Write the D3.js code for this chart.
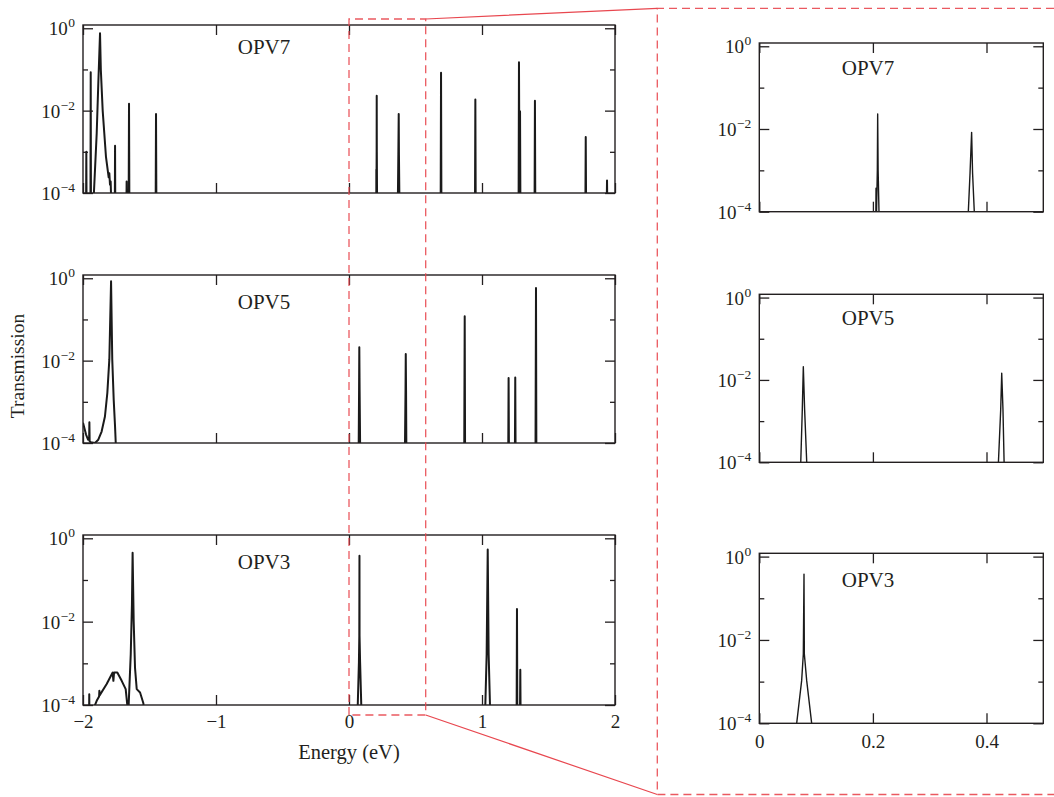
<!DOCTYPE html>
<html>
<head>
<meta charset="utf-8">
<script src="https://cdn.jsdelivr.net/npm/d3@7"></script>
<style>
  body { margin: 0; background: #fff; }
  text { font-family: "Liberation Serif", "DejaVu Serif", serif; fill: #231f20; }
</style>
</head>
<body>
<svg id="chart" width="1054" height="797"></svg>
<script>
// ---- Transmission spectra T(E), energies in eV ----
// Values of 3e-5 sit below the plotted range (floor of the log axis is 1e-4).
const opv7Energy = [
  -2.000, -1.977, -1.975, -1.973, -1.944, -1.942, -1.940,
  -1.925, -1.918, -1.897, -1.885, -1.872, -1.866, -1.852, -1.827, -1.807, -1.802, -1.797, -1.792, -1.785,
  -1.761, -1.759, -1.757, -1.674, -1.672, -1.670, -1.657, -1.654, -1.651, -1.454, -1.451, -1.448,
  0.2050, 0.2055, 0.2060, 0.2078, 0.2084, 0.2092, 0.2115,
  0.3665, 0.3680, 0.3710, 0.3738, 0.3755, 0.3785, 0.3800,
  0.689, 0.692, 0.695, 0.947, 0.950, 0.953,
  1.275, 1.278, 1.282, 1.286, 1.289, 1.395, 1.398, 1.401,
  1.777, 1.780, 1.783, 1.937, 1.940, 1.943, 2.000
];
const opv7Trans = [
  3e-5, 3e-5, 1.0e-3, 3e-5, 3e-5, 0.085, 3e-5,
  3e-5, 1.0e-4, 2.8e-3, 0.045, 0.76, 0.10, 0.010, 7.4e-4, 2.4e-4, 3.0e-4, 1.6e-4, 1.9e-4, 3e-5,
  3e-5, 1.4e-3, 3e-5, 3e-5, 1.9e-4, 3e-5, 3e-5, 0.0146, 3e-5, 3e-5, 0.0083, 3e-5,
  3e-5, 3.7e-4, 5e-5, 1.0e-3, 0.023, 1.0e-3, 3e-5,
  3e-5, 1.0e-4, 8.5e-4, 0.0083, 8.5e-4, 1.0e-4, 3e-5,
  3e-5, 0.083, 3e-5, 3e-5, 0.0187, 3e-5,
  3e-5, 0.15, 1.0e-4, 0.0097, 3e-5, 3e-5, 0.0174, 3e-5,
  3e-5, 0.0023, 3e-5, 3e-5, 2.0e-4, 3e-5, 3e-5
];

const opv5Energy = [
  -2.000, -1.977, -1.962, -1.954, -1.952, -1.950, -1.942, -1.910, -1.885, -1.860, -1.835,
  -1.817, -1.802, -1.789, -1.780, -1.769, -1.759, -1.747,
  0.0715, 0.0730, 0.0757, 0.0775, 0.0798, 0.0835, 0.0850,
  0.4195, 0.4210, 0.4250, 0.4268, 0.4290, 0.4310, 0.4325,
  0.866, 0.870, 0.873, 1.197, 1.200, 1.203, 1.247, 1.250, 1.253,
  1.402, 1.406, 1.409, 2.000
];
const opv5Trans = [
  3.1e-4, 1.6e-4, 1.2e-4, 1.2e-4, 3.2e-4, 1.1e-4, 1.05e-4, 1.0e-4, 1.2e-4, 1.9e-4, 4.4e-4,
  1.65e-3, 0.0107, 0.85, 0.0107, 1.1e-3, 2.5e-4, 3e-5,
  3e-5, 1.0e-4, 1.9e-3, 0.021, 1.9e-3, 1.0e-4, 3e-5,
  3e-5, 1.0e-4, 1.9e-3, 0.0145, 1.9e-3, 1.0e-4, 3e-5,
  3e-5, 0.12, 3e-5, 3e-5, 0.0038, 3e-5, 3e-5, 0.0039, 3e-5,
  3e-5, 0.58, 3e-5, 3e-5
];

const opv3Energy = [
  -2.000, -1.955, -1.953, -1.951, -1.922, -1.897, -1.879, -1.877, -1.875, -1.822,
  -1.777, -1.7715, -1.7665, -1.742, -1.709, -1.679, -1.664, -1.658,
  -1.641, -1.632, -1.627, -1.619, -1.609, -1.596, -1.571, -1.546, -1.534,
  0.0640, 0.0658, 0.0746, 0.0775, 0.0787, 0.0793, 0.0834, 0.0922, 0.0940,
  1.020, 1.025, 1.035, 1.043, 1.050, 1.060, 1.063,
  1.260, 1.263, 1.266, 1.285, 1.288, 1.291, 2.000
];
const opv3Trans = [
  3e-5, 3e-5, 1.8e-4, 3e-5, 8e-5, 1.26e-4, 1.6e-4, 2.2e-4, 1.7e-4, 3.2e-4,
  6.0e-4, 3.8e-4, 6.0e-4, 6.0e-4, 3.8e-4, 2.4e-4, 8e-5, 8e-5,
  1.66e-3, 0.026, 0.45, 0.0105, 7.9e-4, 2.4e-4, 2.0e-4, 1.1e-4, 3e-5,
  3e-5, 1.0e-4, 1.07e-3, 4.6e-3, 0.38, 4.6e-3, 1.07e-3, 1.0e-4, 3e-5,
  3e-5, 1.0e-4, 1.66e-3, 0.54, 1.66e-3, 1.0e-4, 3e-5,
  3e-5, 0.020, 3e-5, 3e-5, 7.0e-4, 3e-5, 3e-5
];

const molecules = ["OPV7", "OPV5", "OPV3"];
const energyTicks = [-2, -1, 0, 1, 2];
const energyTickLabels = ["\u22122", "\u22121", "0", "1", "2"];
const zoomTicks = [0, 0.2, 0.4];
const zoomTickLabels = ["0", "0.2", "0.4"];
const transMajorTicks = [1, 1e-2, 1e-4];
const transMajorExponents = ["0", "\u22122", "\u22124"];
const transMinorTicks = [1e-1, 1e-3];
const transDomain = [1e-4, 1.2];
const fullRange = [-2, 2];
const zoomRange = [0, 0.5];

const series = [
  d3.zip(opv7Energy, opv7Trans),
  d3.zip(opv5Energy, opv5Trans),
  d3.zip(opv3Energy, opv3Trans)
];

// ---- layout ----
const svg = d3.select("#chart");
const ink = "#231f20";
const red = "#e8474f";

const mainFrames = [
  { top: 25, bottom: 193, labelY: 53.5 },
  { top: 275, bottom: 443, labelY: 308.5 },
  { top: 535, bottom: 705, labelY: 568.5 }
];
const zoomFrames = [
  { top: 43, bottom: 211.7, labelY: 75 },
  { top: 294.3, bottom: 462.3, labelY: 325 },
  { top: 553.3, bottom: 723.3, labelY: 586.7 }
];

let clipCount = 0;

function drawPanel(p) {
  const x = d3.scaleLinear().domain(p.xDomain).range([p.left, p.right]);
  const y = d3.scaleLog().domain(transDomain).range([p.bottom, p.top]);
  const g = svg.append("g");
  const id = "clip" + (clipCount++);

  g.append("clipPath").attr("id", id).append("rect")
    .attr("x", p.left).attr("y", p.top)
    .attr("width", p.right - p.left).attr("height", p.bottom - p.top);

  const line = d3.line().x(d => x(d[0])).y(d => y(d[1]));
  g.append("path")
    .datum(p.data)
    .attr("clip-path", `url(#${id})`)
    .attr("fill", "none")
    .attr("stroke", "#1a1a1a")
    .attr("stroke-width", p.lineWidth)
    .attr("stroke-linejoin", "round")
    .attr("d", line);

  const styleAxis = sel => {
    sel.select(".domain").remove();
    sel.selectAll(".tick line").attr("stroke", ink).attr("stroke-width", 1.3);
  };

  // bottom / top energy ticks
  const bottomAxis = g.append("g").attr("transform", `translate(0,${p.bottom})`)
    .call(d3.axisBottom(x).tickValues(p.xTicks).tickSize(-10).tickPadding(p.xPad)
      .tickFormat((d, i) => p.showX ? p.xLabels[i] : ""))
    .call(styleAxis);
  bottomAxis.selectAll(".tick text").attr("font-size", 19).attr("fill", ink)
    .style("font-family", '"Liberation Serif", serif');

  g.append("g").attr("transform", `translate(0,${p.top})`)
    .call(d3.axisTop(x).tickValues(p.xTicks).tickSize(-10).tickFormat(""))
    .call(styleAxis);

  // transmission ticks, major and minor, on both sides
  g.append("g").attr("transform", `translate(${p.left},0)`)
    .call(d3.axisLeft(y).tickValues(transMajorTicks).tickSize(-10).tickFormat(""))
    .call(styleAxis);
  g.append("g").attr("transform", `translate(${p.left},0)`)
    .call(d3.axisLeft(y).tickValues(transMinorTicks).tickSize(-5).tickFormat(""))
    .call(styleAxis);
  g.append("g").attr("transform", `translate(${p.right},0)`)
    .call(d3.axisRight(y).tickValues(transMajorTicks).tickSize(-10).tickFormat(""))
    .call(styleAxis);
  g.append("g").attr("transform", `translate(${p.right},0)`)
    .call(d3.axisRight(y).tickValues(transMinorTicks).tickSize(-5).tickFormat(""))
    .call(styleAxis);

  // power-of-ten labels
  transMajorTicks.forEach((v, i) => {
    const t = g.append("text")
      .attr("x", p.left - 8)
      .attr("y", y(v) + 7)
      .attr("text-anchor", "end")
      .attr("font-size", 19);
    t.append("tspan").text("10");
    t.append("tspan").attr("font-size", 13.5).attr("dy", -8).attr("dx", 0.5)
      .text(transMajorExponents[i]);
  });

  // frame
  g.append("rect")
    .attr("x", p.left).attr("y", p.top)
    .attr("width", p.right - p.left).attr("height", p.bottom - p.top)
    .attr("fill", "none").attr("stroke", ink).attr("stroke-width", 1.4);

  g.append("text")
    .attr("x", p.labelX).attr("y", p.labelY)
    .attr("text-anchor", "middle")
    .attr("font-size", 21)
    .text(p.name);
}

molecules.forEach((name, i) => {
  drawPanel({
    name, data: series[i],
    left: 83, right: 615, top: mainFrames[i].top, bottom: mainFrames[i].bottom,
    xDomain: fullRange, xTicks: energyTicks, xLabels: energyTickLabels,
    showX: i === 2, xPad: 10, lineWidth: 2.0,
    labelX: 264, labelY: mainFrames[i].labelY
  });
  drawPanel({
    name, data: series[i],
    left: 759.3, right: 1043.3, top: zoomFrames[i].top, bottom: zoomFrames[i].bottom,
    xDomain: zoomRange, xTicks: zoomTicks, xLabels: zoomTickLabels,
    showX: i === 2, xPad: 11, lineWidth: 1.4,
    labelX: 868, labelY: zoomFrames[i].labelY
  });
});

// axis titles
svg.append("text")
  .attr("x", 349).attr("y", 759)
  .attr("text-anchor", "middle").attr("font-size", 20.5)
  .text("Energy (eV)");
svg.append("text")
  .attr("transform", "translate(24,366) rotate(-90)")
  .attr("text-anchor", "middle").attr("font-size", 19.5)
  .text("Transmission");

// magnified window and its callout
const xMain = d3.scaleLinear().domain(fullRange).range([83, 615]);
const winLeft = xMain(0), winRight = 425.7, winTop = 19, winBottom = 715;
const boxLeft = 657.3, boxTop = 8.3, boxBottom = 794.5;

svg.append("path")
  .attr("d", `M${winLeft},${winBottom}V${winTop}H${winRight}V${winBottom}Z`)
  .attr("fill", "none").attr("stroke", red).attr("stroke-width", 1.3)
  .attr("stroke-dasharray", "8,5").attr("opacity", 0.9);
svg.append("path")
  .attr("d", `M1054,${boxTop}H${boxLeft}V${boxBottom}H1054`)
  .attr("fill", "none").attr("stroke", red).attr("stroke-width", 1.3)
  .attr("stroke-dasharray", "8,5").attr("opacity", 0.9);
svg.append("path")
  .attr("d", `M${winRight},${winTop}L${boxLeft},${boxTop}M${winRight},${winBottom}L${boxLeft},${boxBottom}`)
  .attr("fill", "none").attr("stroke", red).attr("stroke-width", 1.2);
</script>
</body>
</html>
